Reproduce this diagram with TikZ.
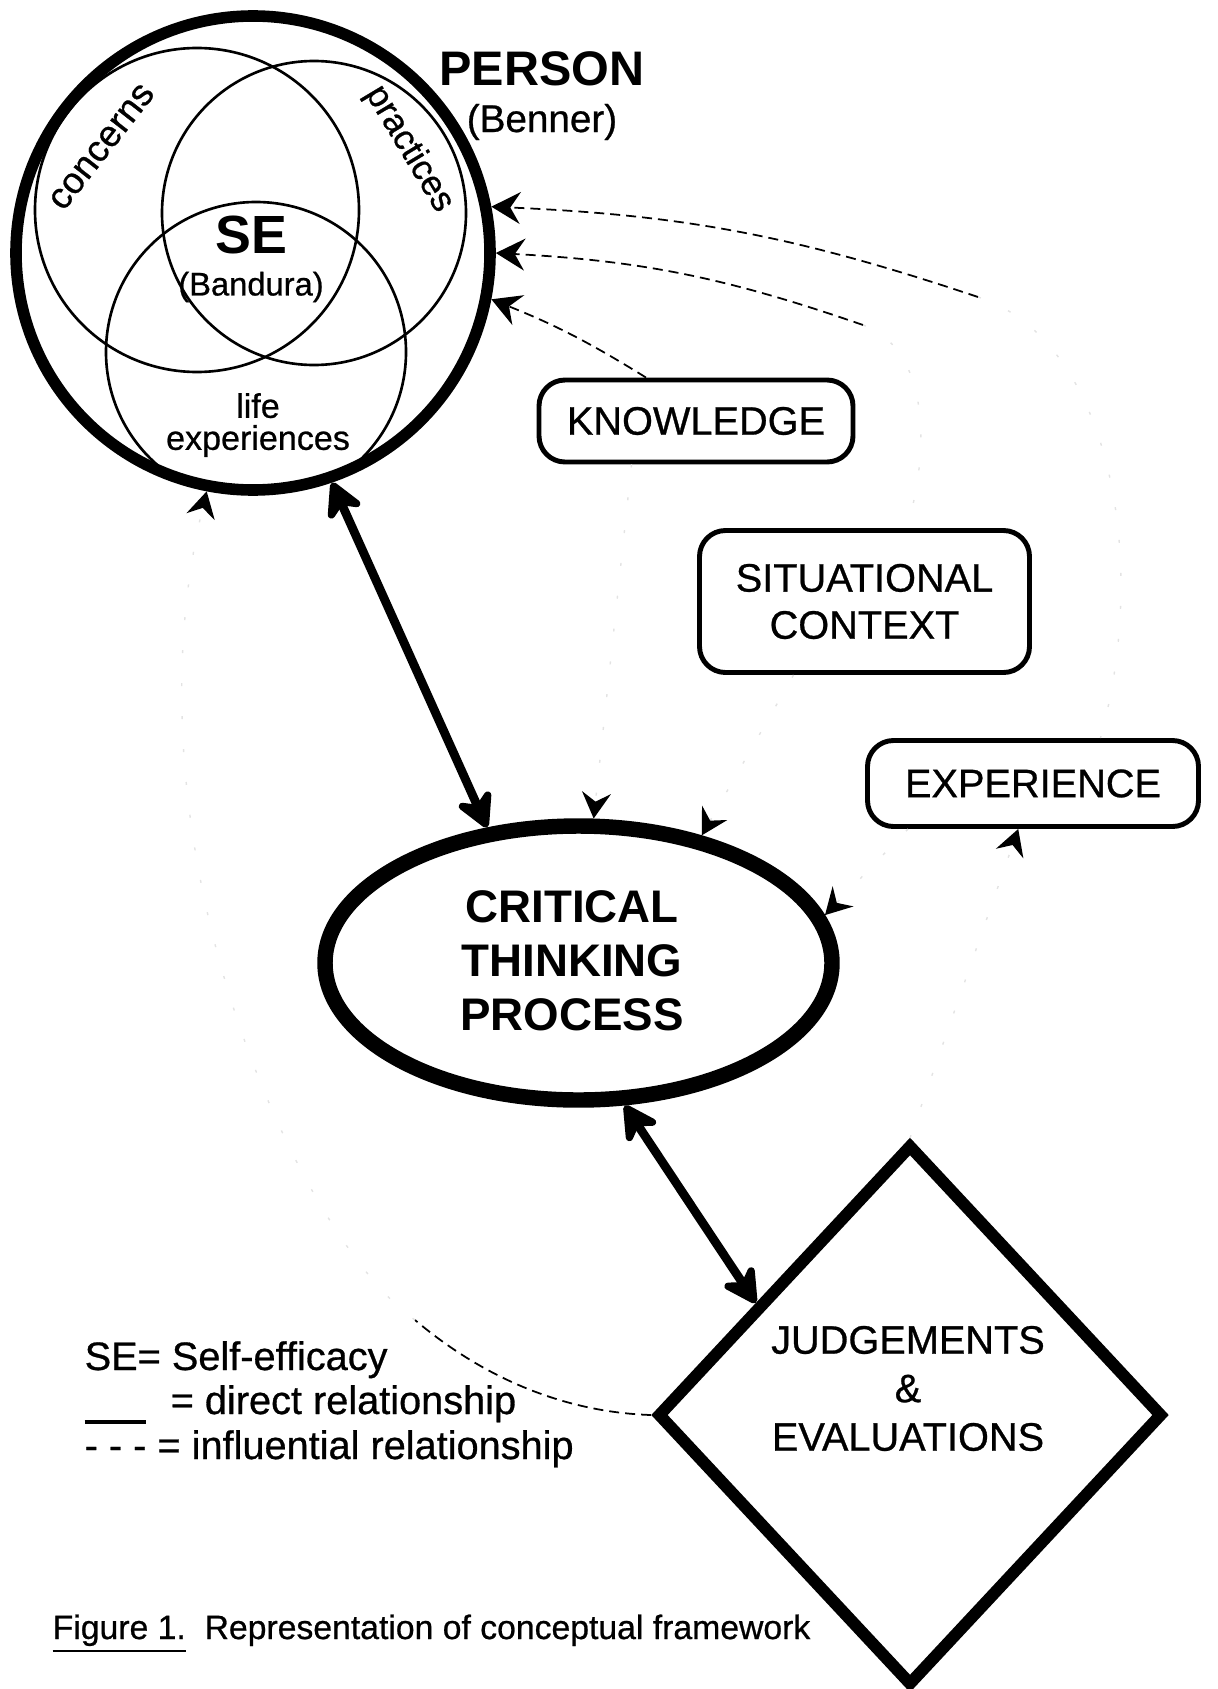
\documentclass[tikz,border=0pt]{standalone}
\usepackage{fontspec}
\setmainfont{Liberation Sans}[UprightFeatures={FakeBold=0.7}]
\usetikzlibrary{arrows.meta,shapes.geometric}

\begin{document}
\begin{tikzpicture}[>={Stealth[length=2.9mm,width=3.2mm,inset=1mm]},
  infl/.style={dash pattern=on 1mm off 0.6mm,line width=0.5pt},
  faded/.style={gray!22,dash pattern=on 0.3mm off 3mm,line width=0.4pt},
  fadedarrow/.style={faded,-{Stealth[length=2.6mm,width=2.9mm,inset=0.9mm,black]}},
  direct/.style={line width=2.5pt,{Stealth[length=4.3mm,width=4.6mm,inset=1.4mm,round]}-{Stealth[length=4.3mm,width=4.6mm,inset=1.4mm,round]}},
  factor/.style={draw,rounded corners=2.6mm,line width=1.4pt,align=center,inner sep=0pt,font=\fontsize{11.3}{13.4}\selectfont},
  venn/.style={line width=0.75pt}]
\useasboundingbox (0,0) rectangle (12.17,-16.89);
\begin {scope}
  \node (person) [draw,circle,line width=3.3pt,minimum size=4.74cm,inner sep=0pt] at (2.53,-2.53) {};
  \clip (2.53,-2.53) circle (2.37);
  \draw [venn] (1.97,-2.10) circle (1.62);
  \draw [venn] (3.14,-2.13) circle (1.52);
  \draw [venn] (2.56,-3.52) circle (1.50);
\end {scope}
\node (se) [font=\fontsize{15.3}{18}\selectfont\bfseries] at (2.51,-2.35) {SE};
\node (bandura) [font=\fontsize{9.3}{11}\selectfont] at (2.51,-2.87) {(Bandura)};
\node (concerns) [rotate=52,font=\fontsize{10.5}{12}\selectfont] at (1.02,-1.47) {concerns};
\node (practices) [rotate=-59,font=\fontsize{10}{12}\selectfont] at (4.09,-1.49) {practices};
\node (life) [align=center,font=\fontsize{9.7}{9.1}\selectfont] at (2.58,-4.25) {life\\experiences};
\node (persontitle) [font=\fontsize{13.8}{16}\selectfont\bfseries] at (5.42,-0.69) {PERSON};
\node (benner) [font=\fontsize{11}{13}\selectfont] at (5.42,-1.22) {(Benner)};

\node (know) [factor,minimum width=3.14cm,minimum height=0.82cm] at (6.96,-4.21) {KNOWLEDGE};
\node (sit) [factor,minimum width=3.30cm,minimum height=1.42cm] at (8.645,-6.015) {SITUATIONAL\\CONTEXT};
\node (exp) [factor,minimum width=3.31cm,minimum height=0.86cm] at (10.33,-7.835) {EXPERIENCE};

\node (ct) [draw,ellipse,line width=4.4pt,minimum width=5.07cm,minimum height=2.74cm,inner sep=0pt] at (5.785,-9.63) {};
\node (cttext) [align=center,font=\fontsize{13}{15.4}\selectfont\bfseries] at (5.72,-9.61) {CRITICAL\\THINKING\\PROCESS};

\node (judg) [draw,diamond,line width=3.4pt,minimum width=5.06cm,minimum height=5.42cm,inner sep=0pt] at (9.10,-14.15) {};
\node (judgtext) [align=center,font=\fontsize{11.3}{13.8}\selectfont] at (9.08,-13.885) {JUDGEMENTS\\\&\\EVALUATIONS};

\draw [direct] (person.-71) -- (ct.124);
\draw [direct] (ct.-72) -- (judg.144);

\coordinate (infa) at (9.78,-2.97);
\coordinate (infb) at (8.63,-3.25);
\coordinate (infc) at (4.15,-13.20);
\draw [infl,->] (infa) to[bend right=8] (person.11.5);
\draw [infl,->] (infb) to[bend right=8] (person.0);
\draw [infl,->] (know.139) to[bend right=5] (person.-11.7);
\draw [faded] (infa) .. controls (11.1,-3.4) and (11.5,-5.6) .. (exp.34);
\draw [faded] (infb) .. controls (9.3,-3.5) and (9.3,-4.5) .. (sit.60);
\draw [fadedarrow] (know.-146) -- (ct.84);
\draw [fadedarrow] (sit.-134) -- (ct.46);
\draw [fadedarrow] (exp.-160) -- (ct.11);
\draw [fadedarrow] (judg.north) -- (exp.-108);
\draw [infl] (judg.west) .. controls (5.6,-14.12) and (4.8,-13.75) .. (infc);
\draw [fadedarrow] (infc) .. controls (3.0,-12.39) and (1.2,-8.5) .. (person.-101);

\node (legse) [anchor=base west,inner sep=0pt,font=\fontsize{11.3}{13}\selectfont] at (0.84,-13.70) {SE= Self-efficacy};
\node (legdirect) [anchor=base west,inner sep=0pt,font=\fontsize{11.3}{13}\selectfont] at (0.84,-14.14) {\rule[-1.0mm]{6.1mm}{0.4mm}\hspace{2.5mm}= direct relationship};
\node (leginfl) [anchor=base west,inner sep=0pt,font=\fontsize{11.3}{13}\selectfont] at (0.84,-14.59) {- - - = influential relationship};
\node (caption) [anchor=base west,inner sep=0pt,font=\fontsize{9.6}{12}\selectfont] at (0.52,-16.39) {\underline{Figure 1.}\ \ Representation of conceptual framework};
\end{tikzpicture}
\end{document}
